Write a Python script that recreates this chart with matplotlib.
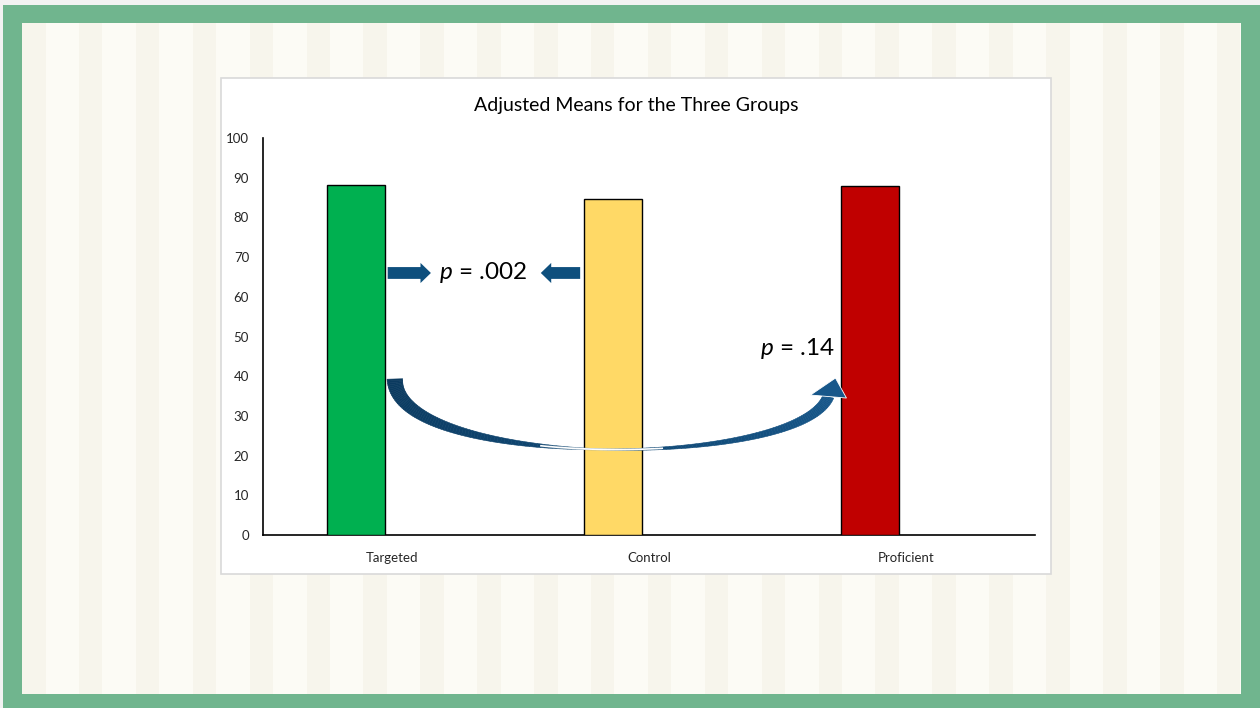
import matplotlib
matplotlib.use('Agg')
import numpy as np
import matplotlib.pyplot as plt
from matplotlib.patches import Rectangle, Polygon

# Adjusted group means
groups = ["Targeted", "Control", "Proficient"]
means = [88.1, 84.7, 87.9]
bar_colors = ["#00B050", "#FFD966", "#C00000"]
y_ticks = [0, 10, 20, 30, 40, 50, 60, 70, 80, 90, 100]
p_near = "$p$ = .002"
p_far = "$p$ = .14"

plt.rcParams['font.family'] = ['Lato', 'DejaVu Sans']
plt.rcParams['mathtext.fontset'] = 'custom'
plt.rcParams['mathtext.it'] = 'Lato:italic'
plt.rcParams['mathtext.rm'] = 'Lato'

W, H = 1260, 708
fig = plt.figure(figsize=(W / 100, H / 100), dpi=100, facecolor="#F2F2F2")


def px_rect(x0, y0, x1, y1, **kw):
    # rectangle given in pixel coordinates (origin top-left)
    return Rectangle((x0 / W, 1 - y1 / H), (x1 - x0) / W, (y1 - y0) / H,
                     transform=fig.transFigure, **kw)


# slide frame: green border and striped background
fig.patches.append(px_rect(3, 5, W, H, facecolor="#70B58E", edgecolor="none", zorder=0))
fig.patches.append(px_rect(22, 23, 1241, 694, facecolor="#FCFBF5", edgecolor="none", zorder=1))
x = 22.0
while x < 1241:
    fig.patches.append(px_rect(x, 23, min(x + 23.5, 1241), 694,
                               facecolor="#F7F5EC", edgecolor="none", zorder=2))
    x += 56.9

# chart area
fig.patches.append(px_rect(221, 78, 1051, 574, facecolor="white",
                           edgecolor="#D9D9D9", linewidth=1.2, zorder=3))

ax = fig.add_axes([263 / W, 1 - 535 / H, (1035 - 263) / W, (535 - 138) / H])
ax.set_zorder(5)
ax.patch.set_visible(False)

pos = np.arange(len(groups))
bar_w = 0.225
shift = -0.14
bars = ax.bar(pos + shift, means, width=bar_w, color=bar_colors,
              edgecolor="black", linewidth=1.0, zorder=3)

ax.set_xlim(-0.5, 2.5)
ax.set_ylim(0, 100)
ax.set_yticks(y_ticks)
ax.set_xticks(pos)
ax.set_xticklabels(groups)
ax.tick_params(axis="both", length=0, labelsize=9.5, colors="#262626")
ax.tick_params(axis="y", pad=10)
ax.tick_params(axis="x", pad=12)
for side in ["top", "right"]:
    ax.spines[side].set_visible(False)
for side in ["left", "bottom"]:
    ax.spines[side].set_color("black")
    ax.spines[side].set_linewidth(1.2)

fig.text(636 / W, 1 - 105 / H, "Adjusted Means for the Three Groups",
         ha="center", va="center", fontsize=14, color="black", zorder=10)

arrow_blue = "#0E4F7D"

# straight arrows between Targeted and Control
left_edge = [b.get_x() for b in bars]
right_edge = [b.get_x() + b.get_width() for b in bars]
y_pair = 66
style = "simple,head_length=0.75,head_width=1.45,tail_width=0.85"
ax.annotate("", xy=(right_edge[0] + 0.18, y_pair), xytext=(right_edge[0] + 0.012, y_pair),
            arrowprops=dict(arrowstyle=style, fc=arrow_blue, ec="none",
                            shrinkA=0, shrinkB=0, mutation_scale=10), zorder=6)
ax.annotate("", xy=(left_edge[1] - 0.168, y_pair), xytext=(left_edge[1] - 0.015, y_pair),
            arrowprops=dict(arrowstyle=style, fc=arrow_blue, ec="none",
                            shrinkA=0, shrinkB=0, mutation_scale=10), zorder=6)
ax.text((right_edge[0] + left_edge[1]) / 2 - 0.005, y_pair, p_near, ha="center", va="center",
        fontsize=17.5, color="black", zorder=7)
ax.text(left_edge[2] - 0.028, 47, p_far, ha="right", va="center",
        fontsize=17.5, color="black", zorder=7)

# curved arrow from Targeted to Proficient, built in display pixels
fig.canvas.draw()
to_px = ax.transData.transform
to_data = ax.transData.inverted().transform
p0 = to_px((right_edge[0] + 0.04, 39.3))
p3 = to_px((left_edge[2] - 0.05, 35.0))
p1 = p0 + np.array([0, -91])
p2 = p3 + np.array([-28, -74])

t = np.linspace(0, 1, 160)
curve = ((1 - t)[:, None] ** 3 * p0 + 3 * ((1 - t) ** 2 * t)[:, None] * p1
         + 3 * ((1 - t) * t ** 2)[:, None] * p2 + (t ** 3)[:, None] * p3)
d = np.gradient(curve, axis=0)
d /= np.linalg.norm(d, axis=1)[:, None]
normal = np.column_stack([-d[:, 1], d[:, 0]])
width = np.where(t < 0.5, 1.2 + 14.5 * (1 - 2 * t) ** 1.1, 1.2 + 10 * (2 * t - 1) ** 1.2)
edge_a = curve + normal * width[:, None] / 2
edge_b = curve - normal * width[:, None] / 2

c_left = np.array(matplotlib.colors.to_rgb("#0B3A5F"))
c_right = np.array(matplotlib.colors.to_rgb("#17578A"))
for i in range(len(t) - 1):
    tm = (t[i] + t[i + 1]) / 2
    col = c_left * (1 - tm) + c_right * tm
    fade = max(0.0, 1 - abs(tm - 0.5) / 0.1) * 0.5
    col = col * (1 - fade) + fade
    quad = np.vstack([edge_a[i], edge_a[i + 1], edge_b[i + 1], edge_b[i]])
    ax.add_patch(Polygon(to_data(quad), closed=True, facecolor=col, edgecolor=col,
                         linewidth=0.4, zorder=6, clip_on=False))

mid = (t > 0.4) & (t < 0.6)
ax.plot(*to_data(curve[mid]).T, color="white", linewidth=1.2, zorder=6.5, clip_on=False)

head = np.array([p3 + [-18, 1], p3 + [18, -2], p3 + [7, 18]])
ax.add_patch(Polygon(to_data(head), closed=True, facecolor=c_right, edgecolor="white",
                     linewidth=0.6, zorder=6, clip_on=False))

fig.savefig("out.png", dpi=100, facecolor=fig.get_facecolor())
plt.close(fig)
